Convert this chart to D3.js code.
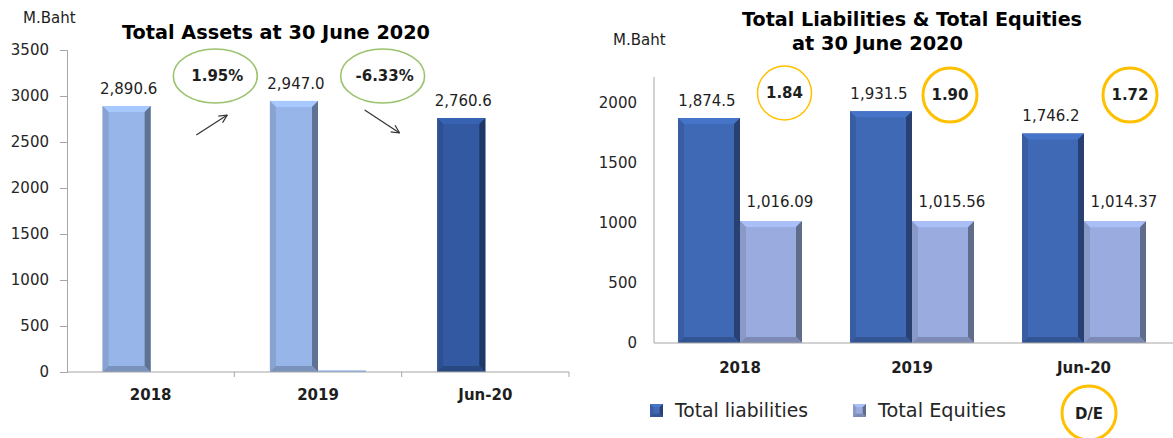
<!DOCTYPE html>
<html>
<head>
<meta charset="utf-8">
<script src="https://cdn.jsdelivr.net/npm/d3@7"></script>
<style>
  html, body { margin: 0; padding: 0; background: #fff; }
  svg { display: block; font-family: "DejaVu Sans", Verdana, sans-serif; }
</style>
</head>
<body>
<svg id="chart" width="1173" height="438"></svg>
<script>
// ---------- data ----------
const categories = ["2018", "2019", "Jun-20"];
const totalAssets = [2890.6, 2947.0, 2760.6];
const assetsLabels = ["2,890.6", "2,947.0", "2,760.6"];
const assetsHidden = [0, 18, 0];
const assetsChange = ["1.95%", "-6.33%"];
const leftTicks = [0, 500, 1000, 1500, 2000, 2500, 3000, 3500];

const liabilities = [1874.5, 1931.5, 1746.2];
const liabLabels = ["1,874.5", "1,931.5", "1,746.2"];
const equities = [1016.09, 1015.56, 1014.37];
const equityLabels = ["1,016.09", "1,015.56", "1,014.37"];
const deRatio = ["1.84", "1.90", "1.72"];
const rightTicks = [0, 500, 1000, 1500, 2000];
const legendNames = ["Total liabilities", "Total Equities"];

// ---------- colours ----------
const cLight = "#97b5e9";
const cDarkAsset = "#3259a1";
const cLiab = "#3f68b5";
const cEq = "#99abdf";
const cGold = "#ffc000";
const cGreen = "#9bc36f";
const cText = "#1e1e1e";
const cAxis = "#a6a6a6";

const svg = d3.select("#chart");

function bevelBar(g, x, y, w, h, color) {
  const b = Math.min(6, w / 4, h / 2);
  const c = d3.color(color);
  const grp = g.append("g");
  grp.append("rect").attr("x", x).attr("y", y).attr("width", w).attr("height", h).attr("fill", color);
  if (h < 3) return;
  grp.append("polygon")
    .attr("points", [[x, y], [x + w, y], [x + w - b, y + b], [x + b, y + b]].join(" "))
    .attr("fill", c.brighter(0.3));
  grp.append("polygon")
    .attr("points", [[x, y], [x + b, y + b], [x + b, y + h - b], [x, y + h]].join(" "))
    .attr("fill", c.darker(0.3));
  grp.append("polygon")
    .attr("points", [[x + w, y], [x + w, y + h], [x + w - b, y + h - b], [x + w - b, y + b]].join(" "))
    .attr("fill", c.darker(1.3));
  grp.append("polygon")
    .attr("points", [[x, y + h], [x + w, y + h], [x + w - b, y + h - b], [x + b, y + h - b]].join(" "))
    .attr("fill", c.darker(0.6));
}

// ================= LEFT CHART =================
const L = { left: 67, right: 569, top: 50, bottom: 372 };
const xL = d3.scaleBand().domain(categories).range([L.left, L.right]).padding(0);
const subL = d3.scaleBand().domain(["a", "b"]).range([0, xL.bandwidth()]).paddingInner(0).paddingOuter(0.74);
const yL = d3.scaleLinear().domain([0, 3500]).range([L.bottom, L.top]);

const gL = svg.append("g");

// y axis
const yAxisL = d3.axisLeft(yL).tickValues(leftTicks).tickSize(7).tickPadding(11).tickFormat(d3.format("d"));
const yaL = gL.append("g").attr("transform", `translate(${L.left},0)`).call(yAxisL);
yaL.selectAll("path,line").attr("stroke", cAxis);
yaL.selectAll("text").attr("font-size", 15).attr("fill", "#262626").attr("font-family", "DejaVu Sans");

// bars
categories.forEach((cat, i) => {
  const x = xL(cat) + subL("a");
  const w = subL.bandwidth();
  const col = i === 2 ? cDarkAsset : cLight;
  bevelBar(gL, x, yL(totalAssets[i]), w, yL(0) - yL(totalAssets[i]), col);
  if (assetsHidden[i] > 0) {
    const x2 = xL(cat) + subL("b");
    gL.append("rect").attr("x", x2).attr("y", yL(assetsHidden[i])).attr("width", w)
      .attr("height", yL(0) - yL(assetsHidden[i])).attr("fill", cLight);
  }
  gL.append("text").attr("x", x + w / 2 + 2).attr("y", yL(totalAssets[i]) - 12)
    .attr("text-anchor", "middle").attr("font-size", 15).attr("fill", cText).text(assetsLabels[i]);
});

// x axis
gL.append("line").attr("x1", L.left).attr("x2", L.right).attr("y1", L.bottom).attr("y2", L.bottom)
  .attr("stroke", cAxis).attr("stroke-width", 1.2);
categories.forEach(cat => {
  const xe = xL(cat) + xL.bandwidth();
  gL.append("line").attr("x1", xe).attr("x2", xe).attr("y1", L.bottom).attr("y2", L.bottom + 5).attr("stroke", cAxis);
  gL.append("text").attr("x", xL(cat) + xL.bandwidth() / 2).attr("y", 400)
    .attr("text-anchor", "middle").attr("font-size", 15).attr("font-weight", "bold").attr("fill", cText).text(cat);
});

// change ellipses + arrows
assetsChange.forEach((t, i) => {
  const c1 = xL(categories[i]) + subL("a") + subL.bandwidth() / 2;
  const c2 = xL(categories[i + 1]) + subL("a") + subL.bandwidth() / 2;
  const cx = (c1 + c2) / 2 + 5;
  const cy = 76;
  gL.append("ellipse").attr("cx", cx).attr("cy", cy).attr("rx", 42).attr("ry", 27)
    .attr("fill", "none").attr("stroke", cGreen).attr("stroke-width", 1.6);
  gL.append("text").attr("x", cx + 2).attr("y", cy + 5).attr("text-anchor", "middle")
    .attr("font-size", 15).attr("font-weight", "bold").attr("fill", cText).text(t);
  const up = !t.startsWith("-");
  const p0 = up ? [cx - 19, 135] : [cx - 18, 110];
  const p1 = up ? [cx + 12, 115] : [cx + 17, 133];
  const ang = Math.atan2(p1[1] - p0[1], p1[0] - p0[0]);
  const hl = 9, ha = 0.45;
  gL.append("line").attr("x1", p0[0]).attr("y1", p0[1]).attr("x2", p1[0]).attr("y2", p1[1])
    .attr("stroke", "#333").attr("stroke-width", 1.2);
  [ang + Math.PI - ha, ang + Math.PI + ha].forEach(a => {
    gL.append("line").attr("x1", p1[0]).attr("y1", p1[1])
      .attr("x2", p1[0] + hl * Math.cos(a)).attr("y2", p1[1] + hl * Math.sin(a))
      .attr("stroke", "#333").attr("stroke-width", 1.2);
  });
});

// titles
gL.append("text").attr("x", 23).attr("y", 23).attr("font-size", 15).attr("fill", cText).text("M.Baht");
gL.append("text").attr("x", 122).attr("y", 39).attr("font-size", 20).attr("font-weight", "bold")
  .attr("fill", "#000").attr("textLength", 308).attr("lengthAdjust", "spacingAndGlyphs")
  .text("Total Assets at 30 June 2020");

// ================= RIGHT CHART =================
const R = { left: 654, right: 1170, top: 103, bottom: 343 };
const xR = d3.scaleBand().domain(categories).range([R.left, R.right]).padding(0);
const subR = d3.scaleBand().domain(["liab", "eq"]).range([0, xR.bandwidth()]).paddingInner(0).paddingOuter(0.387);
const yR = d3.scaleLinear().domain([0, 2000]).range([R.bottom, R.top]);

const gR = svg.append("g");

const yAxisR = d3.axisLeft(yR).tickValues(rightTicks).tickSize(0).tickPadding(17).tickFormat(d3.format("d"));
const yaR = gR.append("g").attr("transform", `translate(${R.left},0)`).call(yAxisR);
yaR.select(".domain").remove();
yaR.selectAll("text").attr("font-size", 15).attr("fill", "#262626").attr("font-family", "DejaVu Sans");
gR.append("line").attr("x1", R.left).attr("x2", R.left).attr("y1", 77).attr("y2", R.bottom).attr("stroke", cAxis);

const deOffset = [1.5, -5, 3];
categories.forEach((cat, i) => {
  const w = subR.bandwidth();
  const xl = xR(cat) + subR("liab");
  const xe = xR(cat) + subR("eq");
  bevelBar(gR, xl, yR(liabilities[i]), w, yR(0) - yR(liabilities[i]), cLiab);
  bevelBar(gR, xe, yR(equities[i]), w, yR(0) - yR(equities[i]), cEq);
  gR.append("text").attr("x", xl + w / 2 - 2).attr("y", yR(liabilities[i]) - 12)
    .attr("text-anchor", "middle").attr("font-size", 15).attr("fill", cText).text(liabLabels[i]);
  gR.append("text").attr("x", xe + w / 2 + 9).attr("y", yR(equities[i]) - 14)
    .attr("text-anchor", "middle").attr("font-size", 15).attr("fill", cText).text(equityLabels[i]);
  // D/E circles
  const cx = xR(cat) + xR.bandwidth() * 0.75 + deOffset[i];
  const cy = yR(2000) - 10 + (i === 0 ? 0 : 2);
  gR.append("circle").attr("cx", cx).attr("cy", cy).attr("r", 27)
    .attr("fill", "none").attr("stroke", cGold).attr("stroke-width", i === 0 ? 1.5 : 3);
  gR.append("text").attr("x", cx).attr("y", cy + 5).attr("text-anchor", "middle")
    .attr("font-size", 15).attr("font-weight", "bold").attr("fill", cText).text(deRatio[i]);
  gR.append("text").attr("x", xR(cat) + xR.bandwidth() / 2).attr("y", 373)
    .attr("text-anchor", "middle").attr("font-size", 15).attr("font-weight", "bold").attr("fill", cText).text(cat);
});

gR.append("line").attr("x1", R.left).attr("x2", 1173).attr("y1", R.bottom).attr("y2", R.bottom)
  .attr("stroke", cAxis).attr("stroke-width", 1.2);

// titles
gR.append("text").attr("x", 613).attr("y", 45).attr("font-size", 15).attr("fill", cText).text("M.Baht");
gR.append("text").attr("x", 742).attr("y", 26).attr("font-size", 20).attr("font-weight", "bold")
  .attr("fill", "#000").attr("textLength", 340).attr("lengthAdjust", "spacingAndGlyphs")
  .text("Total Liabilities & Total Equities");
gR.append("text").attr("x", 792).attr("y", 50).attr("font-size", 20).attr("font-weight", "bold")
  .attr("fill", "#000").attr("textLength", 171).attr("lengthAdjust", "spacingAndGlyphs")
  .text("at 30 June 2020");

// legend
const legX = [650, 853];
const legTextX = [675, 878];
const legW = [133, 128];
const legCols = [cLiab, cEq];
legendNames.forEach((n, i) => {
  bevelBar(gR, legX[i], 404, 13, 13, legCols[i]);
  gR.append("text").attr("x", legTextX[i]).attr("y", 417).attr("font-size", 19).attr("fill", "#262626")
    .attr("textLength", legW[i]).attr("lengthAdjust", "spacingAndGlyphs").text(n);
});
// D/E legend circle
const deX = xR("Jun-20") + xR.bandwidth() / 2 + 5;
gR.append("circle").attr("cx", deX).attr("cy", 413).attr("r", 27)
  .attr("fill", "none").attr("stroke", cGold).attr("stroke-width", 3);
gR.append("text").attr("x", deX).attr("y", 419).attr("text-anchor", "middle")
  .attr("font-size", 15).attr("font-weight", "bold").attr("fill", cText).text("D/E");
</script>
</body>
</html>
